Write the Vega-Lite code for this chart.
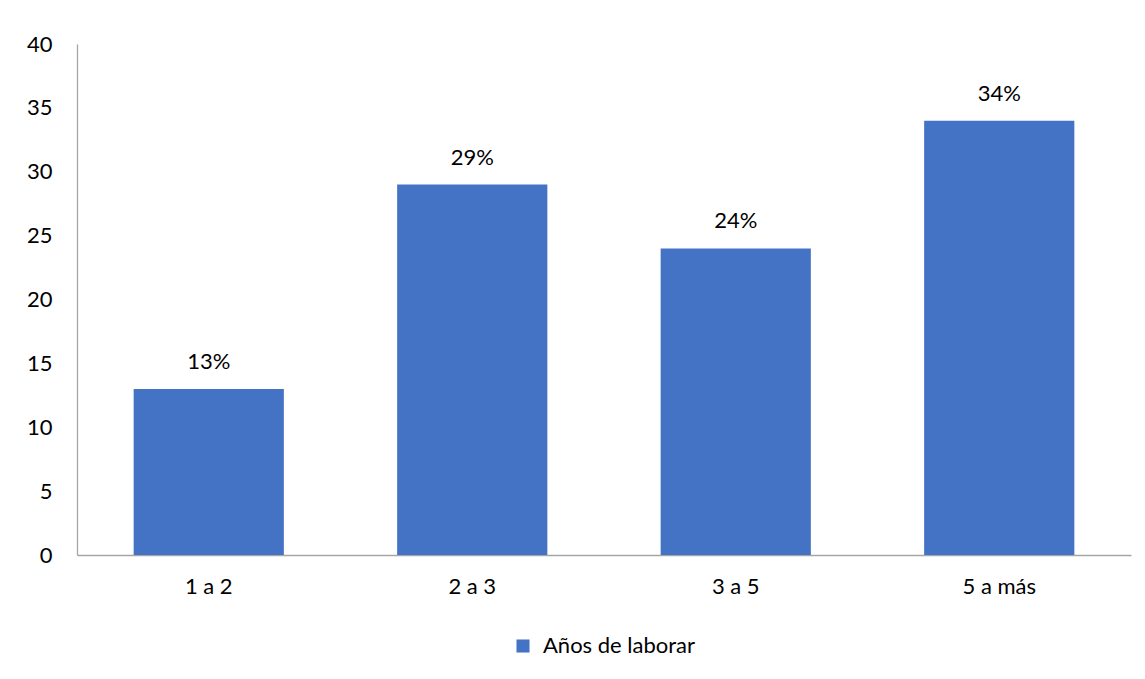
{
  "$schema": "https://vega.github.io/schema/vega-lite/v6.json",
  "autosize": "none",
  "width": 1054,
  "height": 511,
  "padding": {"left": 77, "top": 44, "right": 14, "bottom": 124},
  "background": "white",
  "data": {
    "values": [
      {"rango": "1 a 2", "valor": 13, "etiqueta": "13%", "serie": "Años de laborar"},
      {"rango": "2 a 3", "valor": 29, "etiqueta": "29%", "serie": "Años de laborar"},
      {"rango": "3 a 5", "valor": 24, "etiqueta": "24%", "serie": "Años de laborar"},
      {"rango": "5 a más", "valor": 34, "etiqueta": "34%", "serie": "Años de laborar"}
    ]
  },
  "encoding": {
    "x": {
      "field": "rango",
      "type": "nominal",
      "sort": null,
      "scale": {"paddingInner": 0.43, "paddingOuter": 0.215},
      "axis": {
        "title": null,
        "labelAngle": 0,
        "labelFontSize": 22,
        "labelColor": "#000000",
        "labelPadding": 21,
        "ticks": false,
        "domainColor": "#a6a6a6",
        "domainWidth": 1.3
      }
    },
    "y": {
      "field": "valor",
      "type": "quantitative",
      "scale": {"domain": [0, 40]},
      "axis": {
        "title": null,
        "values": [0, 5, 10, 15, 20, 25, 30, 35, 40],
        "labelFontSize": 22,
        "labelColor": "#000000",
        "labelPadding": 25,
        "ticks": false,
        "grid": false,
        "domainColor": "#a6a6a6",
        "domainWidth": 1.3
      }
    }
  },
  "layer": [
    {
      "mark": {"type": "bar", "color": "#4472C4"},
      "encoding": {
        "color": {
          "field": "serie",
          "type": "nominal",
          "scale": {"range": ["#4472C4"]},
          "legend": {
            "title": null,
            "orient": "bottom",
            "offset": 38,
            "symbolType": "square",
            "symbolSize": 170,
            "symbolStrokeWidth": 0,
            "labelFontSize": 22,
            "labelColor": "#000000",
            "labelOffset": 9
          }
        }
      }
    },
    {
      "mark": {"type": "text", "baseline": "bottom", "dy": -15, "fontSize": 22, "color": "#000000"},
      "encoding": {"text": {"field": "etiqueta"}}
    }
  ],
  "config": {
    "font": "Lato",
    "view": {"stroke": null},
    "legend": {"layout": {"bottom": {"anchor": "middle"}}}
  }
}
